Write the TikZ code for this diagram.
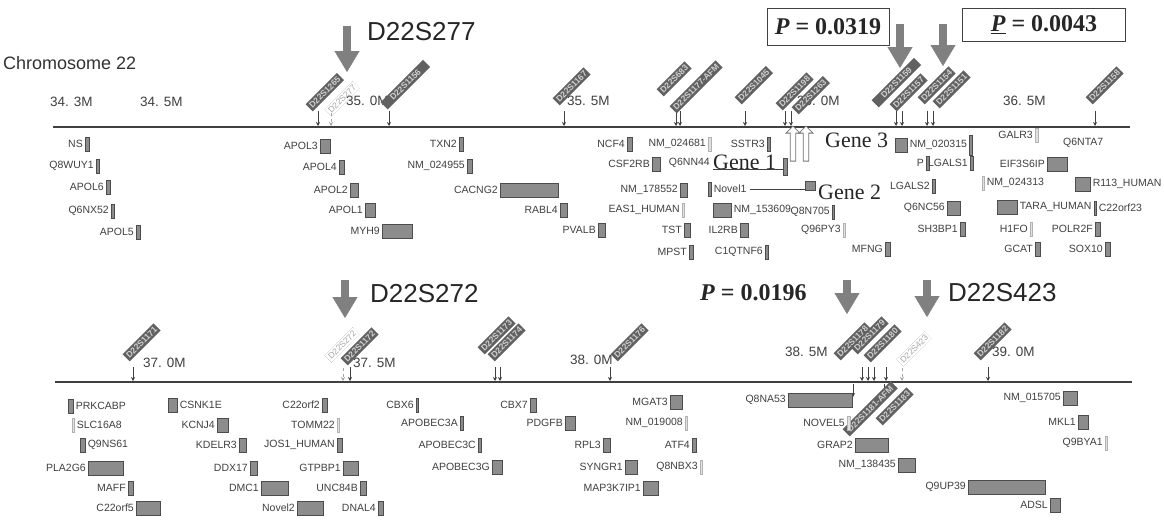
\documentclass[tikz,border=0pt]{standalone}
\usepackage{fontspec}
\setmainfont{Liberation Serif}
\setsansfont{Liberation Sans}
\usetikzlibrary{arrows.meta,shapes.arrows,calc}
\newcommand{\gR}[6][]{\node[gbox,#1,anchor=west,minimum width=#6] (#2-b) at (#4,#5) {};
  \node[glab,anchor=east] (#2) at ([xshift=-2]#2-b.west) {#3};}
\newcommand{\gL}[6][]{\node[gbox,#1,anchor=west,minimum width=#6] (#2-b) at (#4,#5) {};
  \node[glab,anchor=west] (#2) at ([xshift=2]#2-b.east) {#3};}
\begin{document}
\begin{tikzpicture}[x=1pt,y=-1pt,
 glab/.style={font=\sffamily\fontsize{10.5}{11}\selectfont, text=black!75, inner sep=0},
 gbox/.style={draw=black!70, fill=black!45, line width=0.6pt, minimum height=14pt, inner sep=0, minimum width=3pt},
 lbar/.style={draw=black!30, fill=black!12},
 chrom/.style={line width=2pt, draw=black!75},
 scalelab/.style={font=\sffamily\fontsize{13.5}{14}\selectfont, text=black!75, anchor=west, inner sep=0},
 tick/.style={line width=1pt, draw=black!75, -{Stealth[length=4pt,width=4pt]}},
 tickl/.style={line width=0.7pt, draw=black!35, dashed, -{Stealth[length=4pt,width=4pt]}},
 mlab/.style={rotate=45, anchor=west, fill=black!62, text=black!18, font=\sffamily\bfseries\fontsize{8.5}{9}\selectfont, inner sep=2pt},
 mlabl/.style={rotate=45, anchor=west, draw=black!35, densely dotted, text=black!35, font=\sffamily\fontsize{8.5}{9}\selectfont, inner sep=2pt},
 bigarrow/.style={line width=8pt, draw=black!50, -{Triangle[width=25pt,length=21pt,line width=0.4pt]}},
 bigtxt/.style={font=\sffamily\fontsize{26}{28}\selectfont, text=black!85, anchor=west, inner sep=0},
 pval/.style={font=\bfseries\fontsize{24}{26}\selectfont, text=black!85, inner sep=0},
 genetxt/.style={font=\fontsize{22}{24}\selectfont, text=black!85, inner sep=0, anchor=west},
 openarr/.style={single arrow, draw=black!55, fill=white, line width=0.8pt, shape border rotate=90, minimum height=35pt, minimum width=14pt, single arrow head extend=3pt, inner sep=1.5pt},
]
\useasboundingbox (0,0) rectangle (1164,520);
\fill[white] (0,0) rectangle (1164,520);

% ---------- chromosome lines ----------
\coordinate (l1a) at (53,127); \coordinate (l1b) at (1130,127);
\coordinate (l2a) at (55,382); \coordinate (l2b) at (1132,382);
\draw[chrom] (l1a) -- (l1b);
\draw[chrom] (l2a) -- (l2b);

\node[font=\sffamily\fontsize{18}{20}\selectfont, text=black!80, anchor=west, inner sep=0] (chr) at (3,63) {Chromosome 22};

% ---------- scale labels ----------
\node[scalelab] (s343) at (50,102) {34. 3M};
\node[scalelab] (s345) at (140,102) {34. 5M};
\node[scalelab] (s350) at (346,101) {35. 0M};
\node[scalelab] (s355) at (567,101) {35. 5M};
\node[scalelab] (s360) at (797,101) {36. 0M};
\node[scalelab] (s365) at (1003,101) {36. 5M};
\node[scalelab] (s370) at (143,363) {37. 0M};
\node[scalelab] (s375) at (353,363) {37. 5M};
\node[scalelab] (s380) at (570,360) {38. 0M};
\node[scalelab] (s385) at (785,352) {38. 5M};
\node[scalelab] (s390) at (992,352) {39. 0M};

% ---------- top markers ----------
\coordinate (t1a) at (318,111); \coordinate (t1b) at (318,126); \draw[tick] (t1a) -- (t1b);
\node[mlab] (t1) at (309,108) {D22S1265};
\coordinate (t1la) at (331,113); \coordinate (t1lb) at (331,126); \draw[tickl] (t1la) -- (t1lb);
\node[mlabl] (t1l) at (328,113) {D22S277};
\coordinate (t2a) at (389,111); \coordinate (t2b) at (389,126); \draw[tick] (t2a) -- (t2b);
\node[mlab, minimum width=60pt] (t2) at (384,106) {D22S1156};
\coordinate (t3a) at (564,111); \coordinate (t3b) at (564,126); \draw[tick] (t3a) -- (t3b);
\node[mlab] (t3) at (556,102) {D22S1167};
\coordinate (t4a) at (676,111); \coordinate (t4b) at (676,126); \draw[tick] (t4a) -- (t4b);
\coordinate (t4c) at (680,111); \coordinate (t4d) at (680,126); \draw[tick] (t4c) -- (t4d);
\node[mlab] (t4) at (660,93) {D22S683};
\node[mlab] (t4x) at (673,110) {D22S1177-AFM};
\coordinate (t5a) at (745,111); \coordinate (t5b) at (745,126); \draw[tick] (t5a) -- (t5b);
\node[mlab] (t5) at (738,101) {D22S1045};
\coordinate (t6a) at (785,111); \coordinate (t6b) at (785,126); \draw[tick] (t6a) -- (t6b);
\coordinate (t6c) at (791,111); \coordinate (t6d) at (791,126); \draw[tick] (t6c) -- (t6d);
\node[mlab] (t6) at (779,107) {D22S1198};
\node[mlab] (t6x) at (795,111) {D22S1263};
\coordinate (t7a) at (896,111); \coordinate (t7b) at (896,126); \draw[tick] (t7a) -- (t7b);
\coordinate (t7c) at (902,111); \coordinate (t7d) at (902,126); \draw[tick] (t7c) -- (t7d);
\node[mlab, minimum width=60pt] (t7) at (875,104) {D22S1159};
\node[mlab] (t7x) at (893,108) {D22S1157};
\coordinate (t8a) at (927,111); \coordinate (t8b) at (927,126); \draw[tick] (t8a) -- (t8b);
\coordinate (t8c) at (933,111); \coordinate (t8d) at (933,126); \draw[tick] (t8c) -- (t8d);
\node[mlab] (t8) at (921,101) {D22S1154};
\node[mlab] (t8x) at (936,105) {D22S1151};
\coordinate (t9a) at (1095,111); \coordinate (t9b) at (1095,126); \draw[tick] (t9a) -- (t9b);
\node[mlab] (t9) at (1089,101) {D22S1158};

% ---------- bottom markers ----------
\coordinate (b1a) at (133,367); \coordinate (b1b) at (133,381); \draw[tick] (b1a) -- (b1b);
\node[mlab] (b1) at (126,358) {D22S1171};
\coordinate (b2la) at (343,368); \coordinate (b2lb) at (343,381); \draw[tickl] (b2la) -- (b2lb);
\node[mlabl] (b2l) at (328,359) {D22S272};
\coordinate (b2a) at (350,367); \coordinate (b2b) at (350,381); \draw[tick] (b2a) -- (b2b);
\node[mlab] (b2) at (344,362) {D22S1172};
\coordinate (b3a) at (495,367); \coordinate (b3b) at (495,381); \draw[tick] (b3a) -- (b3b);
\coordinate (b3c) at (500,367); \coordinate (b3d) at (500,381); \draw[tick] (b3c) -- (b3d);
\node[mlab] (b3) at (481,351) {D22S1173};
\node[mlab] (b3x) at (491,358) {D22S1174};
\coordinate (b4a) at (610,367); \coordinate (b4b) at (610,381); \draw[tick] (b4a) -- (b4b);
\node[mlab] (b4) at (614,358) {D22S1176};
\coordinate (b5a) at (862,367); \coordinate (b5b) at (862,381); \draw[tick] (b5a) -- (b5b);
\coordinate (b5c) at (868,367); \coordinate (b5d) at (868,381); \draw[tick] (b5c) -- (b5d);
\coordinate (b5e) at (874,367); \coordinate (b5f) at (874,381); \draw[tick] (b5e) -- (b5f);
\coordinate (b5g) at (886,367); \coordinate (b5h) at (886,381); \draw[tick] (b5g) -- (b5h);
\node[mlab] (b5) at (837,357) {D22S1178};
\node[mlab] (b5x) at (854,351) {D22S1179};
\node[mlab] (b5y) at (867,359) {D22S1180};
\coordinate (b5la) at (902,368); \coordinate (b5lb) at (902,381); \draw[tickl] (b5la) -- (b5lb);
\node[mlabl] (b5l) at (900,363) {D22S423};
\coordinate (b7a) at (853,384); \coordinate (b7b) at (853,397); \draw[tick] (b7a) -- (b7b);
\coordinate (b7c) at (884,384); \coordinate (b7d) at (884,397); \draw[tick] (b7c) -- (b7d);
\node[mlab, minimum width=68pt] (b7) at (846,433) {D22S1181-AFM};
\node[mlab] (b7x) at (879,422) {D22S1183};
\coordinate (b6a) at (988,367); \coordinate (b6b) at (988,381); \draw[tick] (b6a) -- (b6b);
\node[mlab] (b6) at (977,357) {D22S1182};

% ---------- big arrows and labels ----------
\coordinate (a1s) at (347,26); \coordinate (a1e) at (347,72); \draw[bigarrow] (a1s) -- (a1e);
\node[bigtxt] (d277) at (367,32) {D22S277};
\coordinate (a2s) at (900,24); \coordinate (a2e) at (900,68); \draw[bigarrow] (a2s) -- (a2e);
\coordinate (a3s) at (943,24); \coordinate (a3e) at (943,66); \draw[bigarrow] (a3s) -- (a3e);
\node[pval, draw=black!75, line width=0.9pt, minimum width=122pt, minimum height=37pt] (p1) at (828,27) {{\itshape P} = 0.0319};
\node[pval, draw=black!75, line width=0.9pt, minimum width=163pt, minimum height=33pt] (p2) at (1044,25) {\underline{\itshape P} = 0.0043};
\coordinate (a4s) at (345,280); \coordinate (a4e) at (345,318); \draw[bigarrow] (a4s) -- (a4e);
\node[bigtxt] (d272) at (370,294) {D22S272};
\coordinate (a5s) at (847,280); \coordinate (a5e) at (847,314); \draw[bigarrow] (a5s) -- (a5e);
\node[pval, anchor=west] (p3) at (700,293) {{\itshape P} = 0.0196};
\coordinate (a6s) at (927,280); \coordinate (a6e) at (927,317); \draw[bigarrow] (a6s) -- (a6e);
\node[bigtxt] (d423) at (948,293) {D22S423};

% ---------- top genes ----------
\gR{ns}{NS}{85}{144}{4}
\gR{q8wuy1}{Q8WUY1}{96}{166}{3}
\gR{apol6}{APOL6}{106}{187}{4}
\gR{q6nx52}{Q6NX52}{111}{211}{3}
\gR{apol5}{APOL5}{136}{232}{4}
\gR{apol3}{APOL3}{320}{146}{10}
\gR{apol4}{APOL4}{339}{167}{5}
\gR{apol2}{APOL2}{350}{190}{8}
\gR{apol1}{APOL1}{365}{210}{10}
\gR{myh9}{MYH9}{382}{231}{30}
\gR{txn2}{TXN2}{459}{144}{4}
\gR{nm024955}{NM\_024955}{467}{166}{5}
\gR{cacng2}{CACNG2}{500}{190}{58}
\gR{rabl4}{RABL4}{560}{210}{7}
\gR{pvalb}{PVALB}{598}{230}{7}
\gR{ncf4}{NCF4}{627}{144}{5}
\gR[lbar]{nm024681}{NM\_024681}{708}{144}{3}
\gR{csf2rb}{CSF2RB}{652}{164}{8}
\node[glab,anchor=east] (q6nn44) at (710,163) {Q6NN44};
\gR{nm178552}{NM\_178552}{680}{190}{7}
\gR[lbar]{eas1}{EAS1\_HUMAN}{682}{210}{2}
\gL{novel1}{Novel1}{708}{189}{3}
\gL{nm153609}{NM\_153609}{713}{210}{18}
\gR{tst}{TST}{684}{230}{6}
\gR{il2rb}{IL2RB}{740}{230}{8}
\gR{mpst}{MPST}{689}{252}{4}
\gR{c1qtnf6}{C1QTNF6}{765}{252}{3}
\gR{sstr3}{SSTR3}{767}{144}{3}
\gR[lbar]{q96py3}{Q96PY3}{843}{230}{2}
\gR{q8n705}{Q8N705}{832}{212}{2}

% gene annotations
\node[genetxt] (gene1) at (713,162) {Gene 1};
\node[gbox, anchor=north west, minimum width=4pt, minimum height=17pt] (g1b) at (783,158) {};
\draw[black!75, line width=1pt] (gene1.south west) -- (gene1.south west -| g1b.west);
\node[openarr] (up1) at (793,145) {};
\node[openarr] (up2) at (806,145) {};
\node[gbox, anchor=west, minimum width=10pt, minimum height=9pt] (g2b) at (805,186) {};
\draw[black!75, line width=1pt] (novel1.east) ++(3,0) coordinate (n1e) (n1e) -- (n1e -| g2b.west);
\node[genetxt] (gene2) at (818,192) {Gene 2};
\node[genetxt] (gene3) at (825,140) {Gene 3};

\gL{nm020315}{NM\_020315}{895}{145}{12}
\node[gbox, anchor=west, minimum height=20pt] (nm020315-c) at ([xshift=2]nm020315.east) {};
\gR[lbar]{galr3}{GALR3}{1035}{135}{3}
\node[glab,anchor=west] (q6nta7) at (1063,143) {Q6NTA7};
\gR{pdxp}{P}{926}{163}{3}
\gR{lgals1}{LGALS1}{970}{163}{3}
\gR{eif3s6ip}{EIF3S6IP}{1047}{164}{20}
\gR{lgals2}{LGALS2}{932}{186}{3}
\gL[lbar]{nm024313}{NM\_024313}{982}{183}{2}
\gL{r113}{R113\_HUMAN}{1075}{184}{15}
\gR{q6nc56}{Q6NC56}{947}{208}{13}
\gL{tara}{TARA\_HUMAN}{997}{207}{20}
\gL{c22orf23}{C22orf23}{1094}{208}{2}
\gR{sh3bp1}{SH3BP1}{960}{229}{5}
\gR[lbar]{h1fo}{H1FO}{1030}{229}{2}
\gR{polr2f}{POLR2F}{1095}{229}{5}
\gR{mfng}{MFNG}{885}{249}{5}
\gR{gcat}{GCAT}{1035}{249}{5}
\gR{sox10}{SOX10}{1105}{249}{5}

% ---------- bottom genes ----------
\gL{prkcabp}{PRKCABP}{68}{406}{5}
\gL{csnk1e}{CSNK1E}{168}{405}{9}
\gR{c22orf2}{C22orf2}{322}{405}{5}
\gR{cbx6}{CBX6}{416}{405}{2}
\gR{cbx7}{CBX7}{530}{405}{6}
\gR{mgat3}{MGAT3}{670}{402}{12}
\gR{q8na53}{Q8NA53}{788}{400}{64}
\gL[lbar]{slc16a8}{SLC16A8}{72}{425}{2}
\gR{kcnj4}{KCNJ4}{217}{425}{11}
\gR[lbar]{tomm22}{TOMM22}{337}{425}{2}
\gL{q9ns61}{Q9NS61}{80}{445}{5}
\gR{kdelr3}{KDELR3}{239}{445}{7}
\gR{jos1}{JOS1\_HUMAN}{337}{445}{5}
\gR{pla2g6}{PLA2G6}{88}{468}{35}
\gR{ddx17}{DDX17}{250}{468}{7}
\gR{gtpbp1}{GTPBP1}{343}{468}{15}
\gR{maff}{MAFF}{128}{488}{5}
\gR{dmc1}{DMC1}{261}{488}{27}
\gR{unc84b}{UNC84B}{360}{488}{6}
\gR{c22orf5}{C22orf5}{136}{508}{24}
\gR{novel2}{Novel2}{297}{508}{26}
\gR{dnal4}{DNAL4}{378}{508}{5}
\gR{apobec3a}{APOBEC3A}{460}{423}{3}
\gR{apobec3c}{APOBEC3C}{478}{445}{3}
\gR{apobec3g}{APOBEC3G}{492}{467}{10}
\gR{pdgfb}{PDGFB}{565}{423}{10}
\gR{rpl3}{RPL3}{603}{445}{7}
\gR{syngr1}{SYNGR1}{625}{467}{12}
\gR{map3k7ip1}{MAP3K7IP1}{643}{488}{15}
\gR[lbar]{nm019008}{NM\_019008}{685}{423}{2}
\gR{atf4}{ATF4}{692}{445}{4}
\gR[lbar]{q8nbx3}{Q8NBX3}{700}{467}{2}
\gR[lbar]{novel5}{NOVEL5}{847}{423}{3}
\gR{grap2}{GRAP2}{855}{445}{33}
\gR{nm138435}{NM\_138435}{898}{465}{17}
\gR{q9up39}{Q9UP39}{968}{487}{77}
\gR{adsl}{ADSL}{1050}{505}{10}
\gR{nm015705}{NM\_015705}{1063}{398}{14}
\gR{mkl1}{MKL1}{1078}{422}{10}
\gR[lbar]{q9bya1}{Q9BYA1}{1105}{443}{2}
\end{tikzpicture}
\end{document}
